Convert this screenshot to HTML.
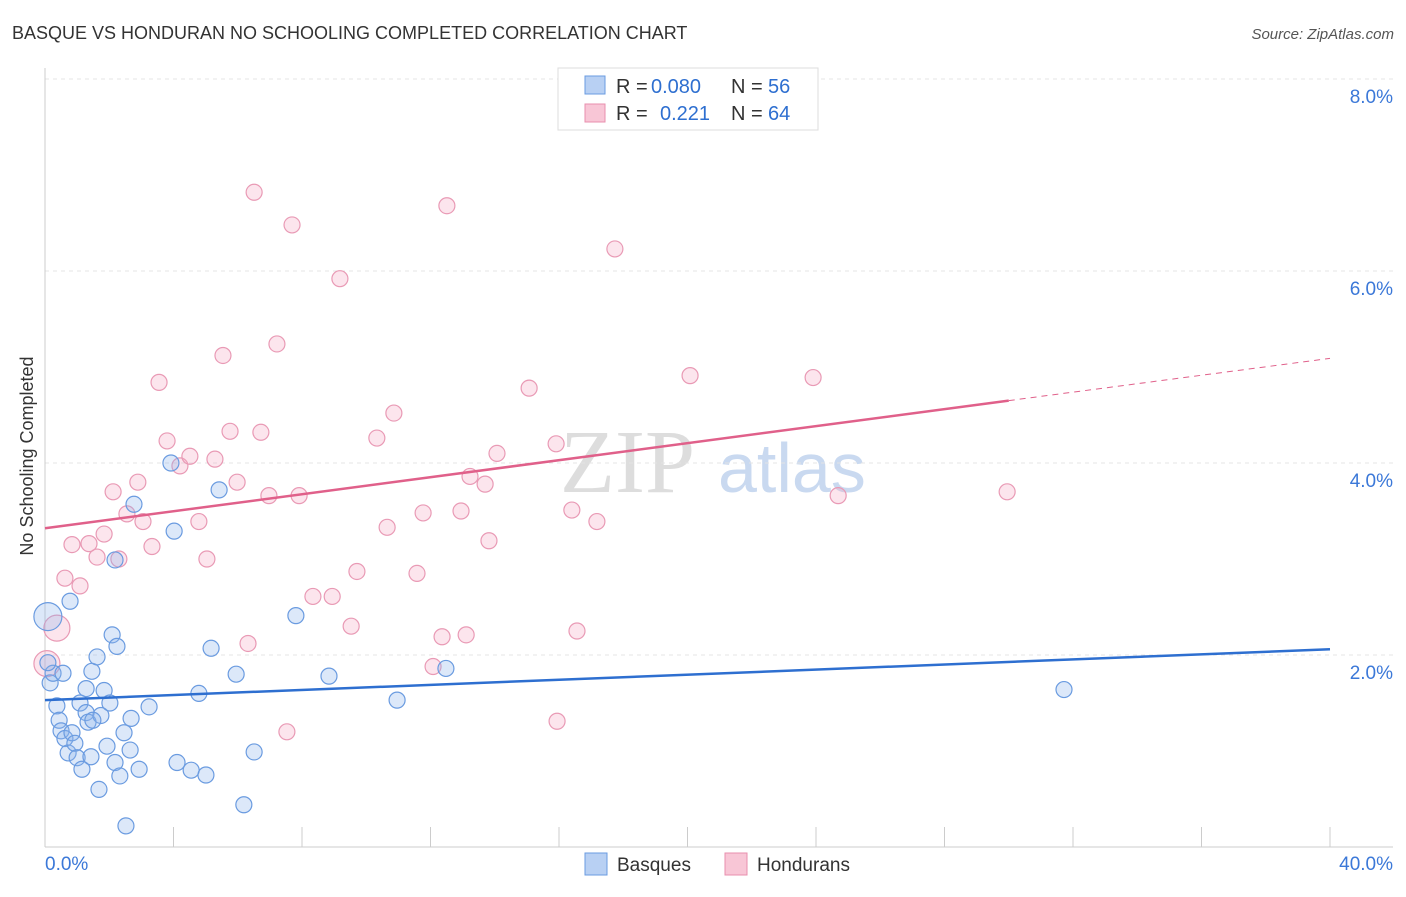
<!DOCTYPE html>
<html><head><meta charset="utf-8"><style>
body{margin:0;background:#fff;font-family:"Liberation Sans",sans-serif;}
</style></head><body>
<svg id="c" width="1406" height="892" xmlns="http://www.w3.org/2000/svg">
<text x="12" y="39" font-size="18" fill="#333">BASQUE VS HONDURAN NO SCHOOLING COMPLETED CORRELATION CHART</text>
<text x="1394" y="39" font-size="15" fill="#555" font-style="italic" text-anchor="end">Source: ZipAtlas.com</text>
<text x="33" y="456" font-size="18" fill="#333" text-anchor="middle" transform="rotate(-90 33 456)">No Schooling Completed</text>
<text x="560" y="492" font-size="90" fill="#ddd" font-family="Liberation Serif">ZIP</text>
<text x="718" y="492" font-size="70" fill="#c9d9f0">atlas</text>
<g id="grid"></g><g id="pts"></g><g id="lines"></g>
<g>
<rect x="558" y="68" width="260" height="62" fill="#fff" stroke="#ddd"/>
<rect x="585" y="76" width="20" height="18" fill="#b8d0f3" stroke="#6a9be0"/>
<rect x="585" y="104" width="20" height="18" fill="#f8c6d6" stroke="#e88fae"/>
<text x="616" y="93" font-size="20" fill="#333">R =</text>
<text x="651" y="93" font-size="20" fill="#2e6fd0">0.080</text>
<text x="731" y="93" font-size="20" fill="#333">N =</text>
<text x="768" y="93" font-size="20" fill="#2e6fd0">56</text>
<text x="616" y="120" font-size="20" fill="#333">R =</text>
<text x="660" y="120" font-size="20" fill="#2e6fd0">0.221</text>
<text x="731" y="120" font-size="20" fill="#333">N =</text>
<text x="768" y="120" font-size="20" fill="#2e6fd0">64</text>
</g>
<g>
<rect x="585" y="853" width="22" height="22" fill="#b8d0f3" stroke="#6a9be0"/>
<text x="617" y="871" font-size="19" fill="#333">Basques</text>
<rect x="725" y="853" width="22" height="22" fill="#f8c6d6" stroke="#e88fae"/>
<text x="757" y="871" font-size="19" fill="#333">Hondurans</text>
</g>
</svg>
<script>
const yTicks=[2,4,6,8];
const xTickLabels=["0.0%","40.0%"];
const basqueX=[0.09,0.16,0.25,0.56,0.37,0.44,0.5,0.62,0.72,0.84,0.93,1.0,1.09,1.15,1.28,1.34,1.43,1.46,1.62,1.68,1.74,1.84,1.93,2.02,2.09,2.18,2.24,2.33,2.18,2.46,2.52,2.65,2.68,2.77,2.93,3.24,3.92,4.02,4.11,4.55,4.79,5.01,5.17,5.42,5.95,6.19,6.51,7.81,8.84,10.96,12.48,31.72,0.78,0.09,1.49,1.28];
const basqueY=[2.40,1.71,1.81,1.81,1.47,1.32,1.21,1.13,0.98,1.19,1.08,0.93,1.50,0.81,1.40,1.30,0.94,1.83,1.98,0.60,1.37,1.63,1.05,1.50,2.21,0.88,2.09,0.74,2.99,1.19,0.22,1.01,1.34,3.57,0.81,1.46,4.00,3.29,0.88,0.80,1.60,0.75,2.07,3.72,1.80,0.44,0.99,2.41,1.78,1.53,1.86,1.64,2.56,1.92,1.32,1.65];
const hondX=[0.06,0.37,0.62,0.84,1.09,1.37,1.62,1.84,2.12,2.30,2.55,2.89,3.05,3.33,3.55,3.80,4.20,4.51,4.79,5.04,5.29,5.54,5.76,5.98,6.32,6.51,6.72,6.97,7.22,7.53,7.69,7.91,8.34,8.94,9.18,9.53,9.71,10.33,10.65,10.86,11.58,11.77,12.08,12.36,12.51,12.95,13.11,13.23,13.70,13.82,14.07,15.07,15.91,15.94,16.40,16.56,17.18,17.74,20.08,20.82,23.91,24.69,29.95];
const hondY=[1.91,2.28,2.80,3.15,2.72,3.16,3.02,3.26,3.70,3.00,3.47,3.80,3.39,3.13,4.84,4.23,3.97,4.07,3.39,3.00,4.04,5.12,4.33,3.80,2.12,6.82,4.32,3.66,5.24,1.20,6.48,3.66,2.61,2.61,5.92,2.30,2.87,4.26,3.33,4.52,2.85,3.48,1.88,2.19,6.68,3.50,2.21,3.86,3.78,3.19,4.10,4.78,4.20,1.31,3.51,2.25,3.39,6.23,4.91,8.01,4.89,3.66,3.70];
const basqueLine=[1.53,2.06];
const hondLine=[3.32,4.65,5.09];
const X=v=>45+v*32.125, Y=v=>847-v*96;
const NS="http://www.w3.org/2000/svg";
function mk(t,a,p){const e=document.createElementNS(NS,t);for(const k in a)e.setAttribute(k,a[k]);p.appendChild(e);return e;}
const g=document.getElementById('grid'),pts=document.getElementById('pts'),ln=document.getElementById('lines');
yTicks.forEach(t=>{const l=mk('line',{x1:45,x2:1393,y1:Y(t),y2:Y(t),stroke:'#e4e4e4','stroke-dasharray':'4,4'},g);


const tx=mk('text',{x:1393,y:Y(t)+24,'font-size':19,fill:'#3b78d8','text-anchor':'end'},g);tx.textContent=t.toFixed(1)+'%';

});
const ax=mk('line',{x1:45,x2:45,y1:68,y2:847,stroke:'#ccc'},g);


const bx=mk('line',{x1:45,x2:1393,y1:847,y2:847,stroke:'#ccc'},g);


for(let i=0;i<=10;i++){const t=mk('line',{x1:X(i*4),x2:X(i*4),y1:827,y2:847,stroke:'#ccc'},g);

}
[[0,'start',45],[1,'end',1393]].forEach(([i,a,x])=>{const t=mk('text',{x:x,y:870,'font-size':19,fill:'#3b78d8','text-anchor':a},g);t.textContent=xTickLabels[i];

});
hondX.forEach((v,i)=>{const c=mk('circle',{cx:X(v),cy:Y(hondY[i]),r:(i<2?13:8),fill:'rgba(244,170,195,0.3)',stroke:'#e99ab5','stroke-width':1.2},pts);

});
basqueX.forEach((v,i)=>{const c=mk('circle',{cx:X(v),cy:Y(basqueY[i]),r:(i==0?14:8),fill:'rgba(140,180,235,0.3)',stroke:'#6a9be0','stroke-width':1.2},pts);

});
const b=mk('line',{x1:X(0),y1:Y(basqueLine[0]),x2:X(40),y2:Y(basqueLine[1]),stroke:'#2e6fd0','stroke-width':2.5},ln);


const h=mk('line',{x1:X(0),y1:Y(hondLine[0]),x2:X(30),y2:Y(hondLine[1]),stroke:'#e0608a','stroke-width':2.5},ln);


const hd=mk('line',{x1:X(30),y1:Y(hondLine[1]),x2:X(40),y2:Y(hondLine[2]),stroke:'#e0608a','stroke-width':1,'stroke-dasharray':'6,5'},ln);


</script>
</body></html>
